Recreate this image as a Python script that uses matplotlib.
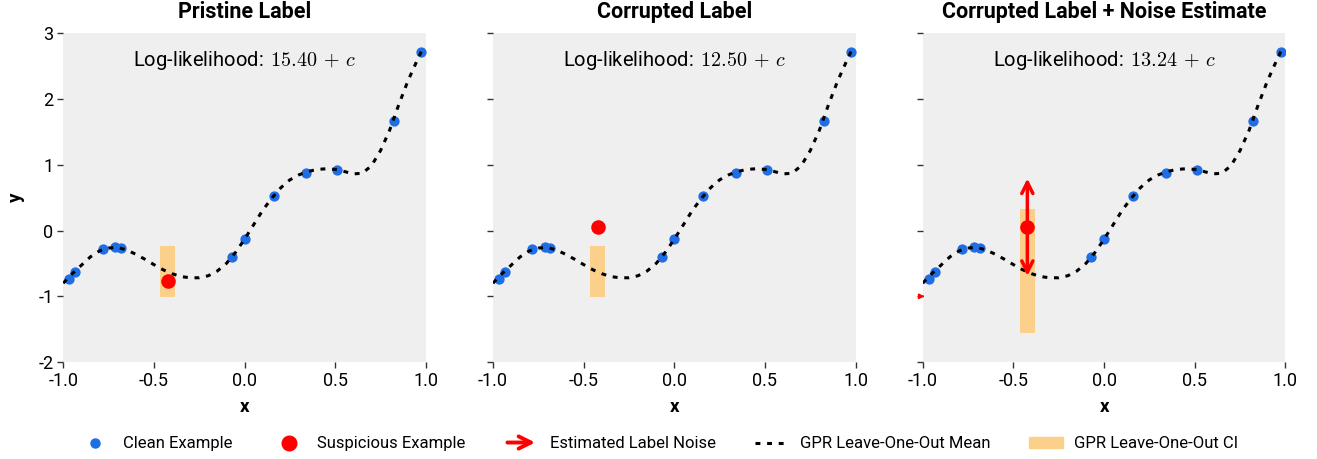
import matplotlib
matplotlib.use("Agg")
import matplotlib.pyplot as plt
from matplotlib.patches import FancyArrowPatch, Patch
from matplotlib.lines import Line2D
from matplotlib.legend_handler import HandlerPatch

plt.rcParams['font.family'] = ['Roboto', 'DejaVu Sans']
plt.rcParams['mathtext.fontset'] = 'cm'
plt.rcParams['axes.unicode_minus'] = False

# Clean examples
clean_x = [-0.967, -0.934, -0.783, -0.715, -0.684, -0.070, 0.0, 0.160, 0.339, 0.512, 0.824, 0.975]
clean_y = [-0.733, -0.630, -0.287, -0.256, -0.272, -0.405, -0.123, 0.518, 0.877, 0.923, 1.662, 2.713]

# Suspicious example
sus_x = -0.423
sus_y_pristine = -0.76
sus_y_corrupt = 0.05

# GPR leave-one-out mean
mean_x = [-1.0, -0.95, -0.9, -0.85, -0.8, -0.75, -0.7, -0.65, -0.6, -0.55, -0.5, -0.45, -0.4,
          -0.35, -0.3, -0.25, -0.2, -0.15, -0.1, -0.05, 0.0, 0.05, 0.1, 0.15, 0.2, 0.25, 0.3,
          0.35, 0.4, 0.45, 0.5, 0.55, 0.6, 0.65, 0.7, 0.75, 0.8, 0.85, 0.9, 0.95, 0.98]
mean_y = [-0.80, -0.656, -0.528, -0.40, -0.31, -0.267, -0.256, -0.297, -0.36, -0.436, -0.518,
          -0.595, -0.656, -0.70, -0.718, -0.718, -0.687, -0.615, -0.50, -0.333, -0.133, 0.087,
          0.308, 0.49, 0.65, 0.77, 0.846, 0.897, 0.928, 0.938, 0.928, 0.897, 0.86, 0.87, 0.985,
          1.215, 1.523, 1.908, 2.267, 2.574, 2.75]

# Confidence intervals (low, high)
ci_standard = (-1.015, -0.236)
ci_noise = (-1.55, 0.32)
noise_estimate = 0.74

titles = ["Pristine Label", "Corrupted Label", "Corrupted Label + Noise Estimate"]
loglik = ["15.40", "12.50", "13.24"]
xticks = [-1.0, -0.5, 0.0, 0.5, 1.0]
xticklabels = ["-1.0", "-0.5", "0.0", "0.5", "1.0"]
yticks = [-2, -1, 0, 1, 2, 3]
yticklabels = ["-2", "-1", "0", "1", "2", "3"]

blue = '#1f6ee6'
red = '#ff0000'
orange = '#fbd08b'
ci_width = 0.082

fig, axes = plt.subplots(1, 3, figsize=(13.17, 4.59), dpi=100, sharey=True)
fig.subplots_adjust(left=0.048, right=0.976, top=0.928, bottom=0.211, wspace=0.185)

for i, ax in enumerate(axes):
    ax.set_facecolor('#efefef')
    for s in ax.spines.values():
        s.set_visible(False)
    ax.set_xlim(-1.0, 1.0)
    ax.set_ylim(-2, 3)
    ax.set_xticks(xticks)
    ax.set_xticklabels(xticklabels, fontsize=13)
    ax.set_yticks(yticks)
    if i == 0:
        ax.set_yticklabels(yticklabels, fontsize=13)
        ax.set_ylabel('y', fontsize=13.5, fontweight='bold', labelpad=10)
    ax.tick_params(axis='both', length=4, width=1, color='#333333', pad=3)
    ax.set_xlabel('x', fontsize=13.5, fontweight='bold', labelpad=6)
    ax.set_title(titles[i], fontsize=15.5, fontweight='bold', pad=10.5)

    ci = ci_noise if i == 2 else ci_standard
    ax.fill_between([sus_x - ci_width / 2, sus_x + ci_width / 2], ci[0], ci[1],
                    color=orange, linewidth=0, zorder=1)
    ax.scatter(clean_x, clean_y, s=55, color=blue, zorder=2, linewidths=0)
    ax.plot(mean_x, mean_y, color='black', linestyle=(0, (1.6, 2.2)), linewidth=2.2, zorder=3)
    sy = sus_y_pristine if i == 0 else sus_y_corrupt
    ax.scatter([sus_x], [sy], s=110, color=red, zorder=4, linewidths=0)
    ax.text(0.5, 0.918, r"Log-likelihood: $\,%s\,+\,c$" % loglik[i], transform=ax.transAxes,
            ha='center', va='center', fontsize=14.5)

    if i == 2:
        for d in (noise_estimate, -noise_estimate):
            ax.annotate('', xy=(sus_x, sus_y_corrupt + d), xytext=(sus_x, sus_y_corrupt),
                        arrowprops=dict(arrowstyle='->', color=red, lw=2.5, mutation_scale=20,
                                        shrinkA=0, shrinkB=0), zorder=5)
        ax.annotate('', xy=(-0.99, -1.0), xytext=(-1.0, -1.0),
                    arrowprops=dict(arrowstyle='-|>', color=red, lw=1, mutation_scale=8,
                                    shrinkA=0, shrinkB=0), annotation_clip=False)


def make_arrow(legend, orig_handle, xdescent, ydescent, width, height, fontsize):
    return FancyArrowPatch((-xdescent, height / 2 - ydescent), (width - xdescent, height / 2 - ydescent),
                           arrowstyle='->', mutation_scale=22, lw=2.8, color=red)

arrow_handle = Patch(facecolor='none', edgecolor=red, linewidth=2.8)
handles = [
    Line2D([], [], marker='o', linestyle='none', color=blue, markersize=6.5),
    Line2D([], [], marker='o', linestyle='none', color=red, markersize=10.5),
    arrow_handle,
    Line2D([], [], color='black', linestyle=(0, (1.6, 2.2)), linewidth=2.2),
    Patch(color=orange),
]
labels = ["Clean Example", "Suspicious Example", "Estimated Label Noise",
          "GPR Leave-One-Out Mean", "GPR Leave-One-Out CI"]
fig.legend(handles, labels, loc='lower center', ncol=5, frameon=False, fontsize=12,
           bbox_to_anchor=(0.5, -0.016), columnspacing=2.35, handlelength=2.0,
           handletextpad=0.7,
           handler_map={arrow_handle: HandlerPatch(patch_func=make_arrow)})

fig.savefig('out.png', dpi=100)
